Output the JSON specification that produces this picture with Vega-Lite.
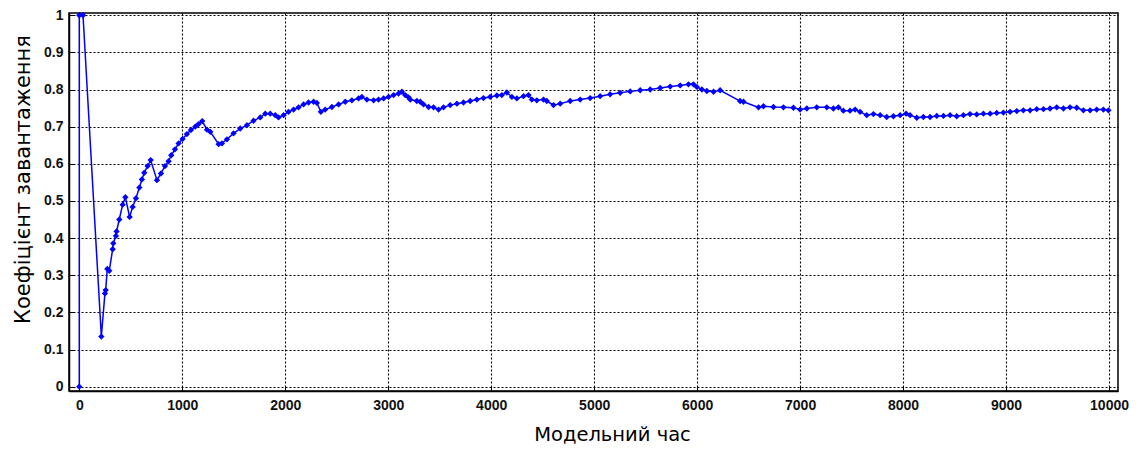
{
  "$schema": "https://vega.github.io/schema/vega-lite/v6.json",
  "width": 1049,
  "height": 378,
  "autosize": {"type": "none"},
  "padding": {"left": 69, "top": 13, "right": 23, "bottom": 59},
  "background": "white",
  "config": {
    "view": {"stroke": "#000000", "strokeWidth": 1.5},
    "axis": {
      "labelFont": "Liberation Sans",
      "labelFontSize": 14,
      "labelFontWeight": "bold",
      "labelColor": "#111111",
      "titleFont": "DejaVu Sans",
      "titleFontWeight": "normal",
      "titleColor": "#000000",
      "domainColor": "#000000",
      "domainWidth": 1.5,
      "tickColor": "#000000",
      "tickSize": -5,
      "gridColor": "#000000",
      "gridDash": [2, 2],
      "gridOpacity": 1,
      "gridWidth": 1.1
    }
  },
  "data": {
    "values": [
      {"t": 0, "k": 0}, {"t": 0, "k": 1}, {"t": 36, "k": 1},
      {"t": 214, "k": 0.135}, {"t": 249, "k": 0.251}, {"t": 256, "k": 0.26},
      {"t": 272, "k": 0.317}, {"t": 291, "k": 0.312}, {"t": 324, "k": 0.37},
      {"t": 330, "k": 0.386}, {"t": 356, "k": 0.406}, {"t": 362, "k": 0.418},
      {"t": 388, "k": 0.45}, {"t": 421, "k": 0.49}, {"t": 447, "k": 0.51},
      {"t": 489, "k": 0.457}, {"t": 518, "k": 0.484}, {"t": 550, "k": 0.507},
      {"t": 583, "k": 0.536}, {"t": 608, "k": 0.558}, {"t": 631, "k": 0.576},
      {"t": 663, "k": 0.594}, {"t": 693, "k": 0.61}, {"t": 754, "k": 0.556},
      {"t": 793, "k": 0.574}, {"t": 832, "k": 0.594}, {"t": 867, "k": 0.607},
      {"t": 893, "k": 0.623}, {"t": 929, "k": 0.639}, {"t": 964, "k": 0.655},
      {"t": 1003, "k": 0.667}, {"t": 1045, "k": 0.68}, {"t": 1084, "k": 0.691},
      {"t": 1126, "k": 0.7}, {"t": 1158, "k": 0.707}, {"t": 1194, "k": 0.715},
      {"t": 1240, "k": 0.692}, {"t": 1272, "k": 0.686}, {"t": 1353, "k": 0.653},
      {"t": 1385, "k": 0.655}, {"t": 1434, "k": 0.666}, {"t": 1498, "k": 0.682},
      {"t": 1563, "k": 0.695}, {"t": 1628, "k": 0.704}, {"t": 1692, "k": 0.716},
      {"t": 1757, "k": 0.725}, {"t": 1806, "k": 0.735}, {"t": 1854, "k": 0.735},
      {"t": 1903, "k": 0.731}, {"t": 1935, "k": 0.725}, {"t": 1984, "k": 0.731},
      {"t": 2032, "k": 0.74}, {"t": 2081, "k": 0.746}, {"t": 2129, "k": 0.752},
      {"t": 2178, "k": 0.76}, {"t": 2226, "k": 0.765}, {"t": 2275, "k": 0.767},
      {"t": 2307, "k": 0.764}, {"t": 2346, "k": 0.74}, {"t": 2388, "k": 0.746},
      {"t": 2453, "k": 0.753}, {"t": 2518, "k": 0.76}, {"t": 2583, "k": 0.767},
      {"t": 2647, "k": 0.771}, {"t": 2712, "k": 0.776}, {"t": 2744, "k": 0.78},
      {"t": 2793, "k": 0.773}, {"t": 2858, "k": 0.771}, {"t": 2906, "k": 0.773},
      {"t": 2955, "k": 0.776}, {"t": 3003, "k": 0.78}, {"t": 3052, "k": 0.785},
      {"t": 3100, "k": 0.789}, {"t": 3133, "k": 0.794}, {"t": 3165, "k": 0.785},
      {"t": 3197, "k": 0.779}, {"t": 3214, "k": 0.773}, {"t": 3278, "k": 0.769},
      {"t": 3311, "k": 0.767}, {"t": 3343, "k": 0.76}, {"t": 3392, "k": 0.753},
      {"t": 3440, "k": 0.752}, {"t": 3489, "k": 0.746}, {"t": 3537, "k": 0.752},
      {"t": 3602, "k": 0.758}, {"t": 3667, "k": 0.762}, {"t": 3731, "k": 0.765},
      {"t": 3796, "k": 0.769}, {"t": 3861, "k": 0.773}, {"t": 3925, "k": 0.777},
      {"t": 3990, "k": 0.78}, {"t": 4055, "k": 0.784}, {"t": 4103, "k": 0.785},
      {"t": 4152, "k": 0.792}, {"t": 4201, "k": 0.78}, {"t": 4249, "k": 0.776},
      {"t": 4314, "k": 0.782}, {"t": 4362, "k": 0.785}, {"t": 4395, "k": 0.773},
      {"t": 4443, "k": 0.771}, {"t": 4508, "k": 0.773}, {"t": 4540, "k": 0.769},
      {"t": 4605, "k": 0.758}, {"t": 4670, "k": 0.762}, {"t": 4767, "k": 0.769},
      {"t": 4864, "k": 0.773}, {"t": 4961, "k": 0.777}, {"t": 5058, "k": 0.782},
      {"t": 5155, "k": 0.787}, {"t": 5252, "k": 0.791}, {"t": 5350, "k": 0.795},
      {"t": 5447, "k": 0.798}, {"t": 5544, "k": 0.8}, {"t": 5641, "k": 0.804},
      {"t": 5738, "k": 0.808}, {"t": 5835, "k": 0.811}, {"t": 5916, "k": 0.814},
      {"t": 5964, "k": 0.814}, {"t": 5997, "k": 0.807}, {"t": 6046, "k": 0.8},
      {"t": 6094, "k": 0.796}, {"t": 6159, "k": 0.794}, {"t": 6223, "k": 0.798},
      {"t": 6417, "k": 0.769}, {"t": 6450, "k": 0.767}, {"t": 6596, "k": 0.752},
      {"t": 6644, "k": 0.755}, {"t": 6741, "k": 0.753}, {"t": 6838, "k": 0.752},
      {"t": 6935, "k": 0.751}, {"t": 7000, "k": 0.746}, {"t": 7065, "k": 0.749},
      {"t": 7162, "k": 0.752}, {"t": 7259, "k": 0.752}, {"t": 7323, "k": 0.749},
      {"t": 7372, "k": 0.752}, {"t": 7420, "k": 0.743}, {"t": 7485, "k": 0.743},
      {"t": 7534, "k": 0.746}, {"t": 7582, "k": 0.74}, {"t": 7647, "k": 0.731},
      {"t": 7712, "k": 0.734}, {"t": 7777, "k": 0.731}, {"t": 7841, "k": 0.726},
      {"t": 7906, "k": 0.728}, {"t": 7971, "k": 0.731}, {"t": 8029, "k": 0.735},
      {"t": 8068, "k": 0.731}, {"t": 8133, "k": 0.724}, {"t": 8197, "k": 0.726},
      {"t": 8262, "k": 0.726}, {"t": 8327, "k": 0.729}, {"t": 8392, "k": 0.729},
      {"t": 8456, "k": 0.731}, {"t": 8521, "k": 0.728}, {"t": 8586, "k": 0.731},
      {"t": 8650, "k": 0.734}, {"t": 8715, "k": 0.733}, {"t": 8780, "k": 0.735},
      {"t": 8845, "k": 0.735}, {"t": 8909, "k": 0.737}, {"t": 8974, "k": 0.738},
      {"t": 9039, "k": 0.74}, {"t": 9104, "k": 0.742}, {"t": 9168, "k": 0.744},
      {"t": 9233, "k": 0.744}, {"t": 9298, "k": 0.747}, {"t": 9363, "k": 0.747},
      {"t": 9427, "k": 0.749}, {"t": 9492, "k": 0.752}, {"t": 9557, "k": 0.749},
      {"t": 9621, "k": 0.752}, {"t": 9686, "k": 0.751}, {"t": 9751, "k": 0.744},
      {"t": 9816, "k": 0.744}, {"t": 9880, "k": 0.746}, {"t": 9945, "k": 0.746},
      {"t": 9994, "k": 0.744}
    ]
  },
  "mark": {
    "type": "line",
    "color": "#0000FF",
    "strokeWidth": 1.5,
    "point": {"shape": "diamond", "size": 40, "color": "#0000FF", "filled": true}
  },
  "encoding": {
    "x": {
      "field": "t",
      "type": "quantitative",
      "scale": {"domain": [-100, 10087], "nice": false, "zero": false},
      "axis": {
        "title": "Модельний час",
        "titleFontSize": 19.5,
        "titleX": 543,
        "values": [0, 1000, 2000, 3000, 4000, 5000, 6000, 7000, 8000, 9000, 10000],
        "format": "d",
        "labelPadding": 12,
        "titlePadding": 13,
        "labelFlush": false
      }
    },
    "y": {
      "field": "k",
      "type": "quantitative",
      "scale": {"domain": [-0.0116, 1.006], "nice": false, "zero": false},
      "axis": {
        "title": "Коефіцієнт завантаження",
        "titleFontSize": 21,
        "titleY": 166,
        "values": [0, 0.1, 0.2, 0.3, 0.4, 0.5, 0.6, 0.7, 0.8, 0.9, 1],
        "format": "~g",
        "labelPadding": 11,
        "titlePadding": 10,
        "labelFlush": false
      }
    },
    "order": {"field": "t"}
  }
}
